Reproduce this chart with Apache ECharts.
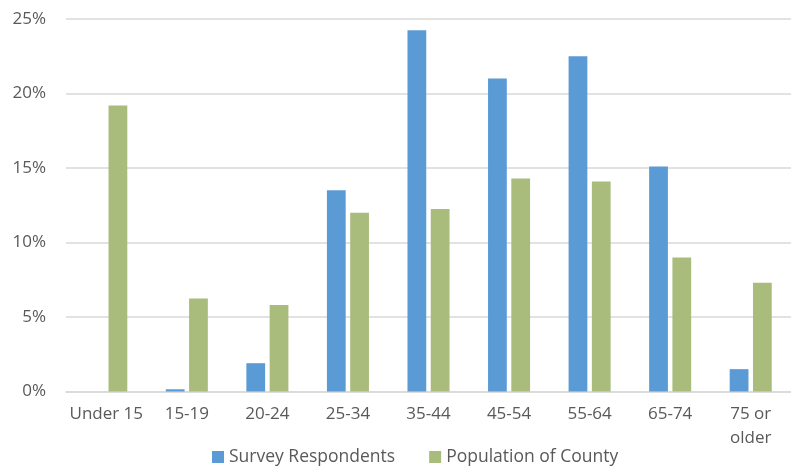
<!DOCTYPE html>
<html>
<head>
<meta charset="utf-8">
<script src="https://cdn.jsdelivr.net/npm/echarts@6/dist/echarts.min.js"></script>
<style>
  html, body { margin: 0; padding: 0; background: #fff; }
  #chart { width: 791px; height: 468px; }
</style>
</head>
<body>
<div id="chart"></div>
<script>
// age groups and shares (percent)
const categories = ['Under 15', '15-19', '20-24', '25-34', '35-44', '45-54', '55-64', '65-74', '75 or\nolder']
const surveyRespondents = [0, 0.15, 1.9, 13.5, 24.25, 21.0, 22.5, 15.1, 1.5]
const populationOfCounty = [19.2, 6.25, 5.8, 12.0, 12.25, 14.3, 14.1, 9.0, 7.3]
const yTicks = [0, 5, 10, 15, 20, 25]

const chart = echarts.init(document.getElementById('chart'))

const labelColor = '#595959'
const fontFamily = 'Open Sans, Liberation Sans, sans-serif'

chart.setOption({
  animation: false,
  grid: {
    left: 66,
    width: 733,   // plot runs past the right edge in the original
    top: 19,
    bottom: 76.5
  },
  legend: {
    left: 207,
    top: 443,
    itemWidth: 12,
    itemHeight: 12,
    itemGap: 34,
    icon: 'rect',
    textStyle: {
      color: labelColor,
      fontSize: 17.5,
      fontFamily: fontFamily
    },
    data: ['Survey Respondents', 'Population of County']
  },
  xAxis: {
    type: 'category',
    data: categories,
    axisLine: {
      lineStyle: { color: '#d9d9d9', width: 1.5 }
    },
    axisTick: { show: false },
    axisLabel: {
      color: labelColor,
      fontSize: 17,
      fontFamily: fontFamily,
      margin: 11,
      lineHeight: 24,
      interval: 0
    }
  },
  yAxis: {
    type: 'value',
    min: yTicks[0],
    max: yTicks[yTicks.length - 1],
    interval: 5,
    axisLine: { show: false },
    axisTick: { show: false },
    axisLabel: {
      color: labelColor,
      fontSize: 17,
      fontFamily: fontFamily,
      margin: 20,
      formatter: v => v + '%'
    },
    splitLine: {
      lineStyle: { color: '#d9d9d9', width: 1.5 }
    }
  },
  series: [
    {
      name: 'Survey Respondents',
      type: 'bar',
      data: surveyRespondents,
      barWidth: '23.3%',
      barGap: '24%',
      itemStyle: { color: '#5b9bd5' }
    },
    {
      name: 'Population of County',
      type: 'bar',
      data: populationOfCounty,
      barWidth: '23.3%',
      itemStyle: { color: '#a9bc7c' }
    }
  ]
})
</script>
</body>
</html>
